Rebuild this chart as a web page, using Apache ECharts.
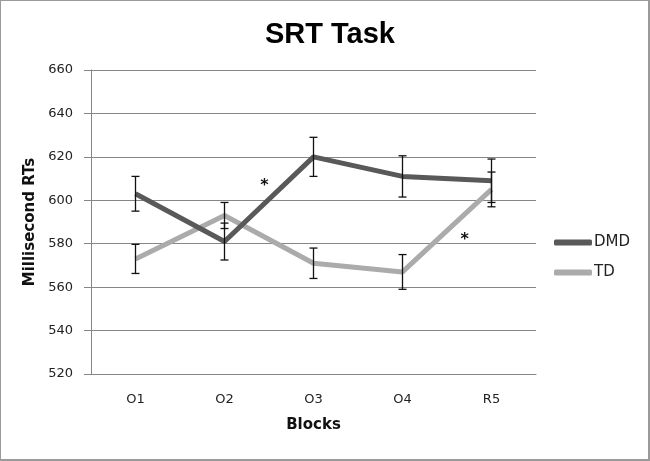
<!DOCTYPE html>
<html><head><meta charset="utf-8">
<script src="https://cdn.jsdelivr.net/npm/echarts@6/dist/echarts.min.js"></script>
<style>html,body{margin:0;padding:0;background:#fff}#c{width:650px;height:461px;box-sizing:border-box;border-style:solid;border-color:#9a9a9a;border-width:1px 2px 2px 1px}</style>
</head><body><div id="c"></div>
<script>
var categories = ['O1','O2','O3','O4','R5'];
var dmdValues = [603, 581, 620, 611, 609];
var dmdErrors = [8, 8.5, 9, 9.5, 10];
var tdValues = [573, 593, 571, 567, 605];
var tdErrors = [6.7, 6, 7, 8, 8];
// asterisks: placed between category a and a+1 at fraction f, at value v
var starCategory = [1, 3];
var starFraction = [0.45, 0.7];
var starValues = [608.4, 583.6];

var chart = echarts.init(document.getElementById('c'), null, {renderer:'canvas'});

function errData(vals, errs){ return vals.map(function(v,i){ return [i, v - errs[i], v + errs[i]]; }); }
function errRender(params, api){
  var x = api.value(0);
  var lo = api.coord([x, api.value(1)]);
  var hi = api.coord([x, api.value(2)]);
  var w = 4;
  var st = {stroke:'#111', lineWidth:1.3};
  return {type:'group', children:[
    {type:'line', shape:{x1:hi[0],y1:hi[1],x2:lo[0],y2:lo[1]}, style:st},
    {type:'line', shape:{x1:hi[0]-w,y1:hi[1],x2:hi[0]+w,y2:hi[1]}, style:st},
    {type:'line', shape:{x1:lo[0]-w,y1:lo[1],x2:lo[0]+w,y2:lo[1]}, style:st}
  ]};
}

var font = 'DejaVu Sans';
chart.setOption({
  animation:false,
  backgroundColor:'#fff',
  title:{text:'SRT Task', left:324, top:14, textAlign:'center',
    textStyle:{fontFamily:'Liberation Sans', fontWeight:'bold', fontSize:29, color:'#000'}},
  grid:{left:90, right:112, top:69, bottom:85},
  legend:{orient:'vertical', left:553, top:234, padding:0, itemWidth:38, itemHeight:6, itemGap:15, icon:'roundRect',
    textStyle:{fontFamily:font, fontSize:15, color:'#222', padding:[0,0,0,-3]},
    data:['DMD','TD']},
  xAxis:{type:'category', data:categories, boundaryGap:true,
    name:'Blocks', nameLocation:'middle', nameGap:44,
    nameTextStyle:{fontFamily:font, fontWeight:'bold', fontSize:15, color:'#111'},
    axisLine:{show:true, lineStyle:{color:'#868686', width:1}},
    axisTick:{show:false},
    axisLabel:{fontFamily:font, fontSize:13, color:'#222', margin:19}},
  yAxis:{type:'value', min:520, max:660, interval:20,
    name:'Millisecond RTs', nameLocation:'middle', nameGap:52,
    nameTextStyle:{fontFamily:font, fontWeight:'bold', fontSize:15, color:'#111'},
    axisLine:{show:true, lineStyle:{color:'#868686', width:1}},
    axisTick:{show:true, length:7, lineStyle:{color:'#868686', width:1}},
    splitLine:{lineStyle:{color:'#868686', width:1}},
    axisLabel:{fontFamily:font, fontSize:13, color:'#222', margin:18}},
  series:[
    {name:'DMD', type:'line', data:dmdValues, symbol:'none', z:3,
      lineStyle:{color:'#595959', width:5}, itemStyle:{color:'#595959'}},
    {name:'TD', type:'line', data:tdValues, symbol:'none', z:2,
      lineStyle:{color:'#ababab', width:5}, itemStyle:{color:'#ababab'}},
    {type:'custom', data:errData(dmdValues, dmdErrors), renderItem:errRender, z:5, silent:true},
    {type:'custom', data:errData(tdValues, tdErrors), renderItem:errRender, z:5, silent:true},
    {type:'custom', z:6, silent:true,
      data:starCategory.map(function(a,i){ return [a, starValues[i], starFraction[i]]; }),
      renderItem:function(params, api){
        var a = api.value(0), v = api.value(1), f = api.value(2);
        var p1 = api.coord([a, v]), p2 = api.coord([a+1, v]);
        return {type:'text', style:{text:'*', x:p1[0]+(p2[0]-p1[0])*f, y:p1[1]+4,
          align:'center', verticalAlign:'middle', fontFamily:font, fontSize:16, fontWeight:'bold', fill:'#111'}};
      }}
  ]
});
</script></body></html>
